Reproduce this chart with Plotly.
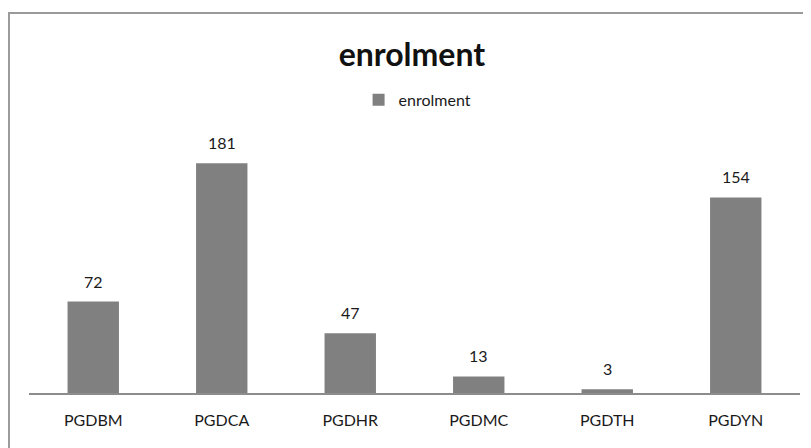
import plotly.graph_objects as go

categories = ["PGDBM", "PGDCA", "PGDHR", "PGDMC", "PGDTH", "PGDYN"]
enrolment = [72, 181, 47, 13, 3, 154]

FONT = "Lato, 'Open Sans', sans-serif"

fig = go.Figure()
fig.add_trace(go.Bar(
    x=categories, y=enrolment, name="enrolment",
    marker=dict(color="#808080", line=dict(width=0)),
    width=0.4,
))

for c, v in zip(categories, enrolment):
    fig.add_annotation(x=c, y=v, xref="x", yref="y", text=str(v), showarrow=False,
                       yanchor="bottom", yshift=9,
                       font=dict(size=16, family=FONT, color="#1a1a1a"))

fig.update_layout(
    width=803, height=440,
    margin=dict(l=21, r=11, t=131, b=55),
    paper_bgcolor="white", plot_bgcolor="white",
    font=dict(family=FONT, color="#1a1a1a"),
    title=dict(text="<b>enrolment</b>", x=0.503, xanchor="center", y=1 - 47 / 440, yanchor="middle",
               font=dict(size=32, family=FONT, color="#111111")),
    showlegend=True,
    legend=dict(orientation="h", x=0.504, xanchor="center", y=1.154, yanchor="middle",
                font=dict(size=16, family=FONT, color="#1a1a1a"), itemwidth=30),
    xaxis=dict(showline=True, linecolor="#8c8c8c", linewidth=1.5, ticks="",
               tickfont=dict(size=16, family=FONT, color="#1a1a1a"),
               ticklabelstandoff=12, showgrid=False),
    yaxis=dict(range=[0, 200], visible=False, showgrid=False),
    shapes=[dict(type="rect", xref="paper", yref="paper", x0=-0.026, x1=1.3, y0=-0.6, y1=1.496,
                 line=dict(color="#9a9a9a", width=2), fillcolor="rgba(0,0,0,0)", layer="below")],
)

fig.write_html("out.html")
